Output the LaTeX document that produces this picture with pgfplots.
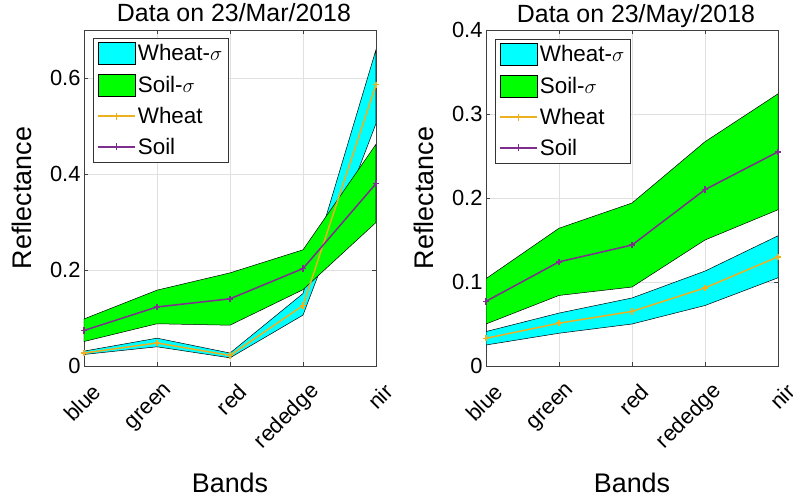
\documentclass[border=0pt]{standalone}
\usepackage{fontspec}
\setmainfont{Liberation Sans}
\usepackage{pgfplots}
\pgfplotsset{compat=1.18}

\definecolor{wheatc}{rgb}{0.929,0.694,0.125}
\definecolor{soilc}{rgb}{0.494,0.184,0.556}
\definecolor{cyanm}{rgb}{0,1,1}
\definecolor{greenm}{rgb}{0,1,0}

\pgfplotsset{
  arealeg/.style={legend image code/.code={\draw[##1] (0bp,-11bp) rectangle (37bp,11bp);}},
  % legend line with a + in the middle, colour given explicitly
  lineleg/.style={legend image code/.code={%
    \draw[color=#1, line width=1.5bp] (0bp,0bp) -- (37bp,0bp);
    \draw[color=#1, line width=1.5bp] (15bp,0bp) -- (22bp,0bp) (18.5bp,-3.5bp) -- (18.5bp,3.5bp);}},
  wheatline/.style={color=wheatc, line width=1.5bp, mark=+, mark size=3.2bp, lineleg=wheatc},
  soilline/.style={color=soilc, line width=1.5bp, mark=+, mark size=3.2bp, lineleg=soilc},
  wheatband/.style={fill=cyanm, draw=black, line width=0.5bp, arealeg},
  soilband/.style={fill=greenm, draw=black, line width=0.5bp, arealeg},
  bandaxis/.style={
    scale only axis, width=292bp, height=336bp,
    xmin=0, xmax=4, xtick={0,...,4},
    xticklabels={blue,green,red,rededge,nir},
    ymin=0,
    grid=major, major grid style={black!12, line width=0.5bp},
    axis line style={black!75, line width=0.6bp},
    major tick style={black!75, line width=0.6bp}, major tick length=4bp,
    tick label style={font=\fontsize{22}{26}\selectfont},
    /pgf/number format/assume math mode=true,
    xticklabel style={inner sep=0pt, xshift=13bp, yshift=-22bp, rotate=45, anchor=east},
    label style={font=\fontsize{27}{32}\selectfont},
    xlabel=Bands, ylabel=Reflectance,
    xlabel style={at={(axis description cs:0.5,-0.348)}, anchor=center},
    ylabel style={at={(axis description cs:-0.214,0.5)}, anchor=center},
    every axis title/.style={at={(axis description cs:0.5,1)}, anchor=base,
      yshift=8bp, xshift=4bp, font=\fontsize{25}{30}\selectfont},
    legend style={font=\fontsize{22.5}{26}\selectfont, anchor=north west,
      draw=black!80, line width=0.6bp, inner sep=4bp, row sep=9bp},
    legend cell align=left,
  }
}

\begin{document}
\begin{tikzpicture}
% 23 March
\begin{axis}[bandaxis, at={(0bp,0bp)}, anchor=south west,
  ymax=0.7, ytick={0,0.2,0.4,0.6},
  title={Data on 23/Mar/2018},
  legend style={at={(axis description cs:0.031,0.976)}}]
\addplot[wheatband] coordinates {(0,0.031) (1,0.058) (2,0.027) (3,0.151) (4,0.659)
  (4,0.505) (3,0.106) (2,0.017) (1,0.040) (0,0.024) (0,0.031)};
\addplot[soilband] coordinates {(0,0.098) (1,0.158) (2,0.194) (3,0.242) (4,0.462)
  (4,0.299) (3,0.159) (2,0.085) (1,0.088) (0,0.051) (0,0.098)};
\addplot[wheatline] coordinates {(0,0.027) (1,0.048) (2,0.022) (3,0.126) (4,0.586)};
\addplot[soilline] coordinates {(0,0.074) (1,0.123) (2,0.140) (3,0.203) (4,0.380)};
\legend{Wheat-$\sigma$, Soil-$\sigma$, Wheat, Soil}
\end{axis}

% 23 May
\begin{axis}[bandaxis, at={(402bp,0bp)}, anchor=south west,
  ymax=0.4, ytick={0,0.1,0.2,0.3,0.4},
  title={Data on 23/May/2018},
  legend style={at={(axis description cs:0.031,0.973)}}]
\addplot[wheatband] coordinates {(0,0.041) (1,0.063) (2,0.081) (3,0.113) (4,0.155)
  (4,0.105) (3,0.072) (2,0.050) (1,0.039) (0,0.025) (0,0.041)};
\addplot[soilband] coordinates {(0,0.104) (1,0.164) (2,0.194) (3,0.267) (4,0.324)
  (4,0.186) (3,0.150) (2,0.094) (1,0.084) (0,0.050) (0,0.104)};
\addplot[wheatline] coordinates {(0,0.033) (1,0.051) (2,0.065) (3,0.093) (4,0.130)};
\addplot[soilline] coordinates {(0,0.077) (1,0.124) (2,0.144) (3,0.210) (4,0.255)};
\legend{Wheat-$\sigma$, Soil-$\sigma$, Wheat, Soil}
\end{axis}

\pgfresetboundingbox
\useasboundingbox (-84bp,-138bp) rectangle (709bp,366bp);
\end{tikzpicture}
\end{document}
